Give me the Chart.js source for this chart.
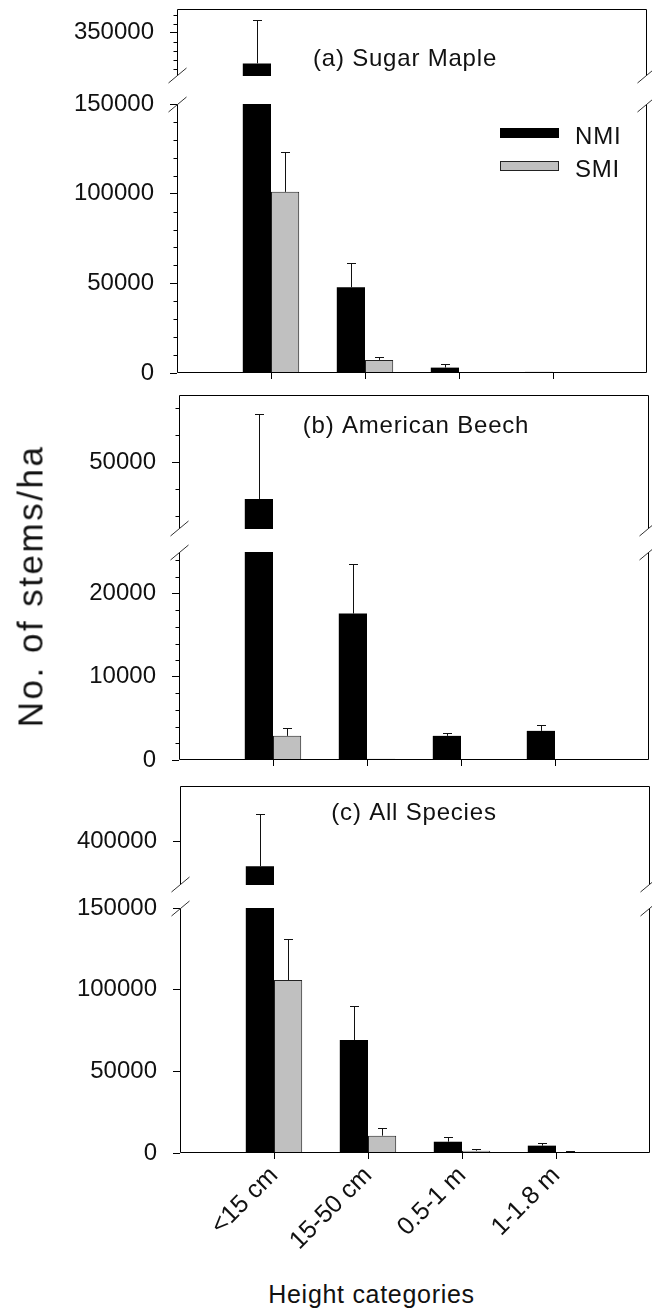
<!DOCTYPE html>
<html>
<head>
<meta charset="utf-8">
<script src="https://cdn.jsdelivr.net/npm/chart.js@4.4.1/dist/chart.umd.min.js"></script>
<style>
  html, body { margin: 0; padding: 0; background: #fff; }
  #wrap { position: relative; width: 652px; height: 1310px; overflow: hidden;
          font-family: Arial, "Liberation Sans", sans-serif; color: #111; }
  #wrap canvas { position: absolute; left: 0; }
  .ytitle { position: absolute; left: 29.5px; top: 586px; white-space: nowrap;
            font-size: 35px; line-height: 35px; letter-spacing: 2.5px;
            transform: translate(-50%, -50%) rotate(-90deg); }
  .xtitle { position: absolute; left: 371.5px; top: 1279px; white-space: nowrap;
            font-size: 25px; line-height: 30px; letter-spacing: 0.7px;
            transform: translateX(-50%); }
</style>
</head>
<body>
<div id="wrap">
  <canvas id="aUpper"></canvas>
  <canvas id="aLower"></canvas>
  <canvas id="bUpper"></canvas>
  <canvas id="bLower"></canvas>
  <canvas id="cUpper"></canvas>
  <canvas id="cLower"></canvas>
  <div class="ytitle">No. of stems/ha</div>
  <div class="xtitle">Height categories</div>
</div>
<script>
const categories = ["<15 cm", "15-50 cm", "0.5-1 m", "1-1.8 m"];

// (a) Sugar Maple
const mapleNMI = [265000, 47800, 3000, 600];
const mapleNMIse = [120000, 13400, 1900, 0];
const mapleSMI = [101000, 7300, 300, 100];
const mapleSMIse = [22400, 1800, 500, 0];

// (b) American Beech
const beechNMI = [36200, 17600, 2900, 3500];
const beechNMIse = [31700, 6000, 400, 700];
const beechSMI = [2900, 150, 0, 0];
const beechSMIse = [900, 0, 0, 0];

// (c) All Species
const allNMI = [330000, 69200, 6900, 4500];
const allNMIse = [145000, 21000, 2700, 1400];
const allSMI = [105900, 10600, 1400, 600];
const allSMIse = [25000, 4500, 1000, 800];

// broken y axes: [min, max], labelled ticks, minor ticks
const mapleUpperRange = [230000, 416000];
const mapleUpperTicks = [350000];
const mapleUpperMinor = [250000, 275000, 300000, 325000, 375000, 400000];
const mapleLowerRange = [0, 150000];
const mapleLowerTicks = [0, 50000, 100000, 150000];
const mapleLowerMinor = [10000, 20000, 30000, 40000, 60000, 70000, 80000, 90000,
                         110000, 120000, 130000, 140000];

const beechUpperRange = [25000, 75000];
const beechUpperTicks = [50000];
const beechUpperMinor = [30000, 40000, 60000, 70000];
const beechLowerRange = [0, 25000];
const beechLowerTicks = [0, 10000, 20000];
const beechLowerMinor = [2000, 4000, 6000, 8000, 12000, 14000, 16000, 18000, 22000, 24000];

const allUpperRange = [278000, 553000];
const allUpperTicks = [400000];
const allUpperMinor = [];
const allLowerRange = [0, 150000];
const allLowerTicks = [0, 50000, 100000, 150000];
const allLowerMinor = [];

Chart.defaults.font.family = 'Arial, "Liberation Sans", sans-serif';
Chart.defaults.color = "#111";

const W = 652;

// frame lines round each segment, with break marks on the broken edge
const framePlugin = {
  id: "frame",
  afterDraw(chart, args, opts) {
    const { ctx, chartArea: ca } = chart;
    const l = Math.round(ca.left) + 0.5;
    const r = Math.round(ca.right) - 0.5;
    const t = Math.round(ca.top) + 0.5;
    const b = Math.round(ca.bottom) - 0.5;
    ctx.save();
    ctx.strokeStyle = "#000";
    ctx.lineWidth = 1;
    ctx.beginPath();
    ctx.moveTo(l, t); ctx.lineTo(l, b);
    ctx.moveTo(r, t); ctx.lineTo(r, b);
    if (opts.top) { ctx.moveTo(l, t); ctx.lineTo(r, t); }
    if (opts.bottom) { ctx.moveTo(l, b); ctx.lineTo(r, b); }
    ctx.stroke();

    const y = opts.breakAt === "top" ? t : b;
    ctx.strokeStyle = "#333";
    ctx.beginPath();
    [l, r].forEach((x) => {
      ctx.moveTo(x - 9, y + 7.5);
      ctx.lineTo(x + 9, y - 7.5);
    });
    ctx.stroke();

    // minor ticks on the y axis
    const ys = chart.scales.y;
    ctx.strokeStyle = "#000";
    ctx.beginPath();
    (opts.minor || []).forEach((v) => {
      const py = Math.round(ys.getPixelForValue(v)) + 0.5;
      ctx.moveTo(l - 4, py);
      ctx.lineTo(l, py);
    });
    ctx.stroke();
    ctx.restore();
  },
};

const errorBarPlugin = {
  id: "errorBars",
  afterDatasetsDraw(chart) {
    const { ctx, chartArea: ca } = chart;
    const ys = chart.scales.y;
    ctx.save();
    ctx.beginPath();
    ctx.rect(ca.left, ca.top, ca.right - ca.left, ca.bottom - ca.top);
    ctx.clip();
    ctx.strokeStyle = "#111";
    ctx.lineWidth = 1;
    chart.data.datasets.forEach((ds, di) => {
      const meta = chart.getDatasetMeta(di);
      ds.errors.forEach((e, j) => {
        const v = ds.data[j];
        if (v == null || !e) return;
        const x = Math.round(meta.data[j].x) + 0.5;
        const y0 = ys.getPixelForValue(v);
        const y1 = Math.round(ys.getPixelForValue(v + e)) + 0.5;
        ctx.beginPath();
        ctx.moveTo(x, y0);
        ctx.lineTo(x, y1);
        ctx.moveTo(x - 4.5, y1);
        ctx.lineTo(x + 4.5, y1);
        ctx.stroke();
      });
    });
    ctx.restore();
  },
};

const textPlugin = {
  id: "panelText",
  afterDraw(chart, args, opts) {
    const { ctx } = chart;
    ctx.save();
    ctx.fillStyle = "#111";
    ctx.font = '24px Arial, "Liberation Sans", sans-serif';
    ctx.letterSpacing = "0.8px";
    if (opts.title) {
      ctx.textAlign = "center";
      ctx.textBaseline = "alphabetic";
      ctx.fillText(opts.title.text, opts.title.x, opts.title.y);
    }
    if (opts.legend) {
      const lg = opts.legend;
      ctx.textAlign = "left";
      chart.data.datasets.forEach((ds, i) => {
        const top = lg.y + i * lg.step;
        ctx.fillStyle = ds.backgroundColor;
        ctx.fillRect(lg.x, top, 59, 10);
        if (ds.borderWidth) {
          ctx.strokeStyle = ds.borderColor;
          ctx.lineWidth = 1;
          ctx.strokeRect(lg.x + 0.5, top + 0.5, 58, 9);
        }
        ctx.fillStyle = "#111";
        ctx.fillText(ds.label, lg.x + 75, top + 16);
      });
    }
    ctx.restore();
  },
};

const panels = [
  {
    nmi: mapleNMI, nmiSe: mapleNMIse, smi: mapleSMI, smiSe: mapleSMIse,
    left: 177, right: 647, xLabels: false,
    upper: { id: "aUpper", top: 9, bottom: 76, cTop: 0, cBottom: 88,
             range: mapleUpperRange, ticks: mapleUpperTicks, minor: mapleUpperMinor },
    lower: { id: "aLower", top: 104, bottom: 373, cTop: 88, cBottom: 385,
             range: mapleLowerRange, ticks: mapleLowerTicks, minor: mapleLowerMinor },
    title: { text: "(a) Sugar Maple", x: 405, y: 66 },
    legend: { x: 500, y: 128, step: 33 },
  },
  {
    nmi: beechNMI, nmiSe: beechNMIse, smi: beechSMI, smiSe: beechSMIse,
    left: 179, right: 649, xLabels: false,
    upper: { id: "bUpper", top: 395, bottom: 529, cTop: 385, cBottom: 540,
             range: beechUpperRange, ticks: beechUpperTicks, minor: beechUpperMinor },
    lower: { id: "bLower", top: 552, bottom: 760, cTop: 540, cBottom: 775,
             range: beechLowerRange, ticks: beechLowerTicks, minor: beechLowerMinor },
    title: { text: "(b) American Beech", x: 416, y: 433 },
  },
  {
    nmi: allNMI, nmiSe: allNMIse, smi: allSMI, smiSe: allSMIse,
    left: 180, right: 650, xLabels: true,
    upper: { id: "cUpper", top: 786, bottom: 885, cTop: 775, cBottom: 894,
             range: allUpperRange, ticks: allUpperTicks, minor: allUpperMinor },
    lower: { id: "cLower", top: 908, bottom: 1153, cTop: 894, cBottom: 1272,
             range: allLowerRange, ticks: allLowerTicks, minor: allLowerMinor },
    title: { text: "(c) All Species", x: 414, y: 820 },
  },
];

function makeSegment(panel, part, isUpper) {
  const canvas = document.getElementById(part.id);
  canvas.width = W;
  canvas.height = part.cBottom - part.cTop;
  canvas.style.top = part.cTop + "px";

  const labels = ["", ...categories, ""];
  const pad = (arr) => [null, ...arr, null];
  const last = labels.length - 1;

  const xScale = {
    type: "category",
    offset: false,
    display: !isUpper,
    border: { display: false },
    grid: {
      offset: false,
      drawOnChartArea: false,
      drawTicks: true,
      tickLength: 6,
      tickColor: (c) => (c.index === 0 || c.index === last ? "rgba(0,0,0,0)" : "#000"),
    },
    ticks: {
      display: panel.xLabels,
      autoSkip: false,
      minRotation: 45,
      maxRotation: 45,
      padding: 2,
      font: { size: 25 },
      color: "#111",
    },
  };
  if (!isUpper) {
    xScale.afterFit = (s) => {
      s.height = part.cBottom - part.bottom;
      s.paddingLeft = 0; s.paddingRight = 0;
    };
  }

  const plugOpts = {
    legend: { display: false },
    tooltip: { enabled: false },
    frame: {
      top: isUpper, bottom: !isUpper,
      breakAt: isUpper ? "bottom" : "top",
      minor: part.minor,
    },
    panelText: {},
  };
  if (isUpper) {
    plugOpts.panelText.title = {
      text: panel.title.text, x: panel.title.x, y: panel.title.y - part.cTop,
    };
  } else if (panel.legend) {
    plugOpts.panelText.legend = {
      x: panel.legend.x, y: panel.legend.y - part.cTop, step: panel.legend.step,
    };
  }

  return new Chart(canvas, {
    type: "bar",
    data: {
      labels,
      datasets: [
        {
          label: "NMI",
          data: pad(panel.nmi),
          errors: pad(panel.nmiSe),
          backgroundColor: "#000",
          borderColor: "#000",
          borderWidth: 0,
          categoryPercentage: 0.6,
          barPercentage: 1.0,
        },
        {
          label: "SMI",
          data: pad(panel.smi),
          errors: pad(panel.smiSe),
          backgroundColor: "#c0c0c0",
          borderColor: "#222",
          borderWidth: 1,
          categoryPercentage: 0.6,
          barPercentage: 1.0,
        },
      ],
    },
    options: {
      responsive: false,
      animation: false,
      events: [],
      layout: {
        autoPadding: false,
        padding: {
          left: 0,
          right: W - panel.right,
          top: part.top - part.cTop,
          bottom: isUpper ? part.cBottom - part.bottom : 0,
        },
      },
      plugins: plugOpts,
      scales: {
        x: xScale,
        y: {
          type: "linear",
          min: part.range[0],
          max: part.range[1],
          border: { display: false },
          grid: {
            drawOnChartArea: false,
            drawTicks: true,
            tickLength: 7,
            tickColor: "#000",
          },
          ticks: {
            autoSkip: false,
            padding: 16,
            font: { size: 24 },
            color: "#111",
            callback: (v) => String(v),
          },
          afterBuildTicks: (s) => {
            s.ticks = part.ticks.map((v) => ({ value: v }));
          },
          afterFit: (s) => {
            s.width = panel.left;
            s.paddingTop = 0; s.paddingBottom = 0;
          },
        },
      },
    },
    plugins: [framePlugin, errorBarPlugin, textPlugin],
  });
}

panels.forEach((p) => {
  makeSegment(p, p.upper, true);
  makeSegment(p, p.lower, false);
});
</script>
</body>
</html>
